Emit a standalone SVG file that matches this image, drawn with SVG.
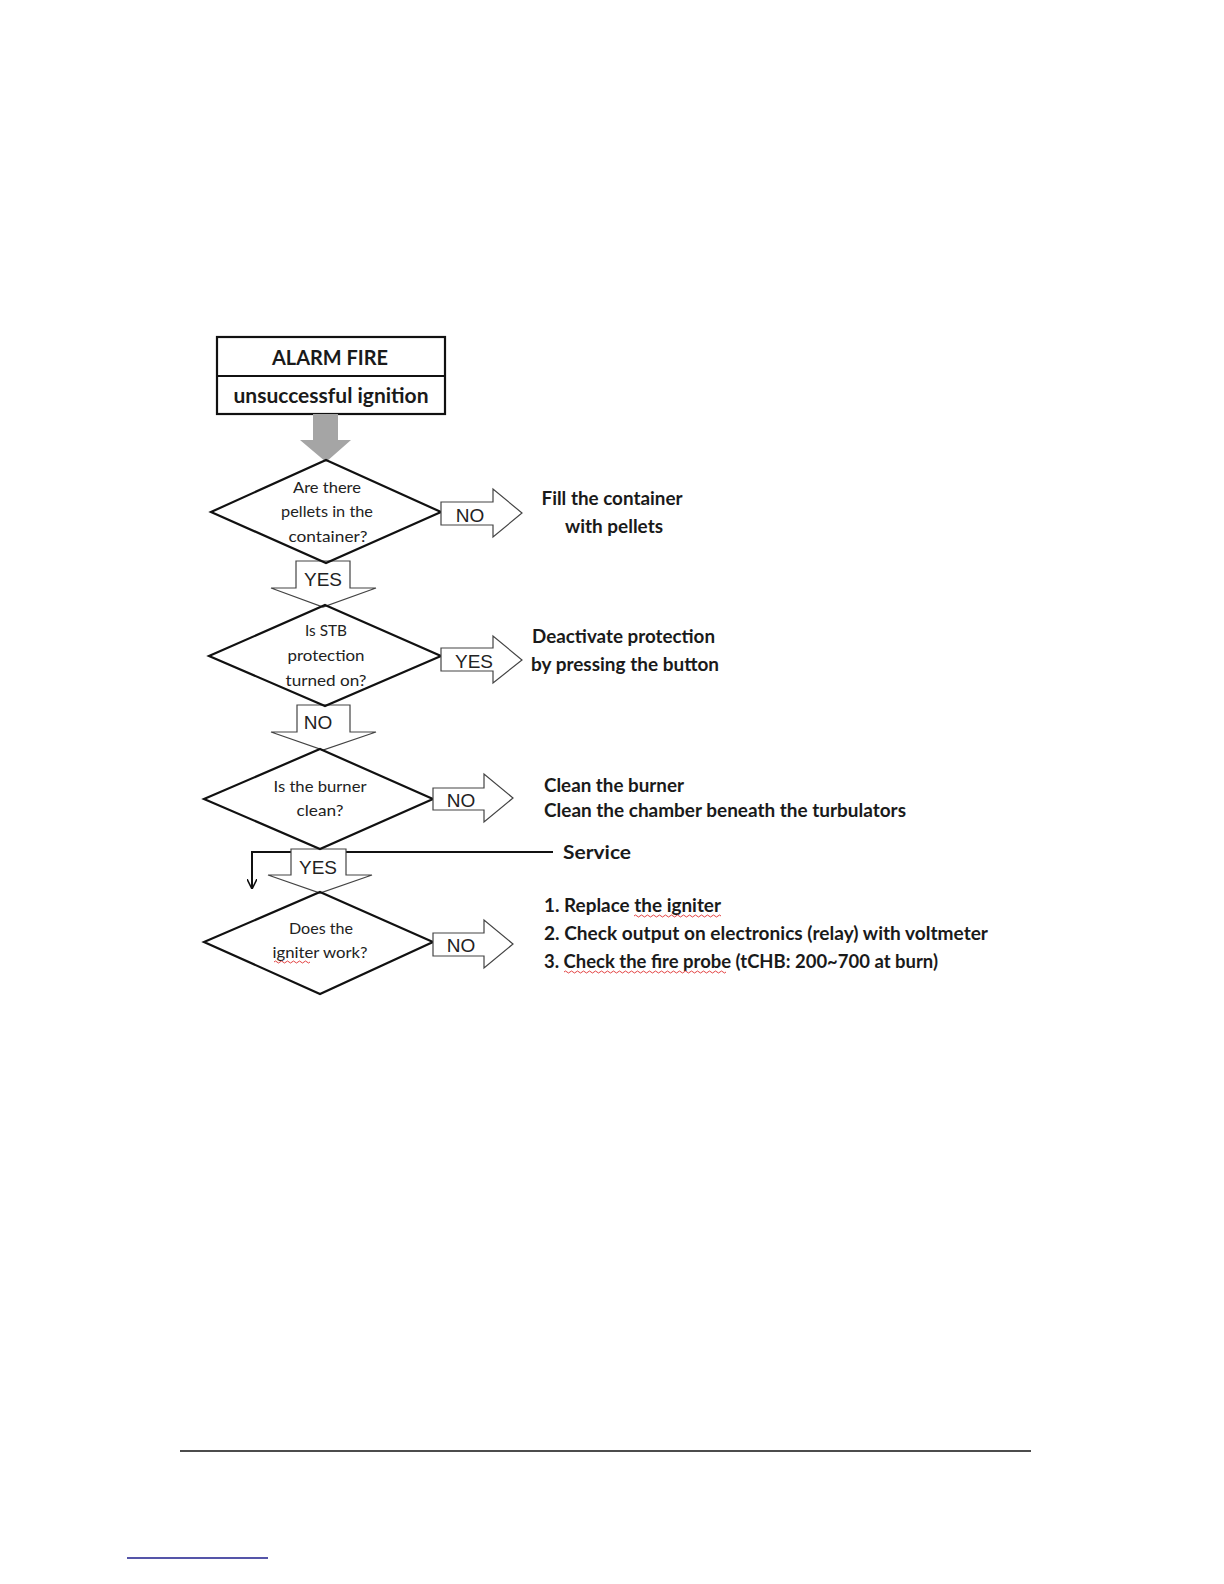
<svg xmlns="http://www.w3.org/2000/svg" width="1224" height="1584" viewBox="0 0 1224 1584">
<style>
.bg{fill:#ffffff}
.box{fill:#ffffff;stroke:#111;stroke-width:2.2}
.dia{fill:none;stroke:#111;stroke-width:2.2;stroke-linejoin:miter}
.blk{fill:#ffffff;stroke:#444;stroke-width:1.2;stroke-linejoin:miter}
.q{font-family:Lato,"Open Sans","Liberation Sans",sans-serif;font-size:16px;fill:#222;text-anchor:middle}
.lab{font-family:"Liberation Sans",Arial,sans-serif;font-size:19px;fill:#222;text-anchor:middle}
.act{font-family:Lato,"Open Sans","Liberation Sans",sans-serif;font-size:18px;font-weight:bold;fill:#1a1a1a}
.ttl{font-family:Lato,"Open Sans","Liberation Sans",sans-serif;font-size:21px;font-weight:bold;fill:#1a1a1a;text-anchor:middle}
.conn{fill:none;stroke:#111;stroke-width:2}
.sq{fill:none;stroke:#e03030;stroke-width:0.9}
</style>
<defs>
<marker id="ah" viewBox="0 0 10 10" refX="9" refY="5" markerWidth="5" markerHeight="5" orient="auto" markerUnits="strokeWidth">
<path d="M0,0 L10,5 L0,10" fill="none" stroke="#111" stroke-width="1.6"/>
</marker>
</defs>
<rect class="bg" x="0" y="0" width="1224" height="1584"/>

<g id="connectors">
<path class="conn" d="M553,852 L252,852 L252,888" marker-end="url(#ah)"/>
</g>

<g id="title">
<rect class="box" x="217" y="337" width="228" height="77"/>
<line x1="217" y1="376" x2="445" y2="376" stroke="#111" stroke-width="2"/>
<text class="ttl" x="330" y="365" textLength="116" lengthAdjust="spacingAndGlyphs">ALARM FIRE</text>
<text class="ttl" x="331" y="403" textLength="195" lengthAdjust="spacingAndGlyphs">unsuccessful ignition</text>
</g>

<g id="start-arrow">
<polygon points="313,414 338,414 338,440 351,440 326,462 300,440 313,440" fill="#a5a5a5"/>
</g>

<g id="arrow-yes1">
<polygon class="blk" points="296,561 350,561 350,588 376,588 323,607 271,588 296,588"/>
<text class="lab" x="323" y="586">YES</text>
</g>
<g id="arrow-no2">
<polygon class="blk" points="297,705 350,705 350,732 376,732 323,750 271,732 297,732"/>
<text class="lab" x="318" y="729">NO</text>
</g>
<g id="arrow-yes3">
<polygon class="blk" points="291,849 346,849 346,875 372,875 320,893 268,875 291,875"/>
<text class="lab" x="318" y="874">YES</text>
</g>

<g id="q1">
<polygon class="dia" points="326,460 441,512 326,563 211,512"/>
<text class="q" x="327" y="493" textLength="68" lengthAdjust="spacingAndGlyphs">Are there</text>
<text class="q" x="327" y="517" textLength="92" lengthAdjust="spacingAndGlyphs">pellets in the</text>
<text class="q" x="328" y="542" textLength="79" lengthAdjust="spacingAndGlyphs">container?</text>
</g>
<g id="q2">
<polygon class="dia" points="325,605 441,656 325,706 209,656"/>
<text class="q" x="326" y="636" textLength="42" lengthAdjust="spacingAndGlyphs">Is STB</text>
<text class="q" x="326" y="661" textLength="77" lengthAdjust="spacingAndGlyphs">protection</text>
<text class="q" x="326" y="686" textLength="81" lengthAdjust="spacingAndGlyphs">turned on?</text>
</g>
<g id="q3">
<polygon class="dia" points="320,749 433,799 320,849 204,799"/>
<text class="q" x="320" y="792" textLength="93" lengthAdjust="spacingAndGlyphs">Is the burner</text>
<text class="q" x="320" y="816" textLength="47" lengthAdjust="spacingAndGlyphs">clean?</text>
</g>
<g id="q4">
<polygon class="dia" points="320,892 433,942 320,994 204,942"/>
<text class="q" x="321" y="934" textLength="64" lengthAdjust="spacingAndGlyphs">Does the</text>
<text class="q" x="320" y="958" textLength="95" lengthAdjust="spacingAndGlyphs">igniter work?</text>
<path class="sq" d="M274,962 q1.5,-2 3,0 t3,0 t3,0 t3,0 t3,0 t3,0 t3,0 t3,0 t3,0 t3,0 t3,0 t3,0"/>
</g>

<g id="arrow-no1">
<polygon class="blk" points="441,502 493,502 493,489 522,513 493,537 493,525 441,525"/>
<text class="lab" x="470" y="522">NO</text>
</g>
<g id="arrow-yes2">
<polygon class="blk" points="441,648 493,648 493,636 522,660 493,683 493,671 441,671"/>
<text class="lab" x="474" y="668">YES</text>
</g>
<g id="arrow-no3">
<polygon class="blk" points="433,788 484,788 484,774 513,798 484,822 484,810 433,810"/>
<text class="lab" x="461" y="807">NO</text>
</g>
<g id="arrow-no4">
<polygon class="blk" points="433,933 484,933 484,920 513,944 484,968 484,956 433,956"/>
<text class="lab" x="461" y="952">NO</text>
</g>

<g id="action1">
<text class="act" x="612" y="505" text-anchor="middle" textLength="141" lengthAdjust="spacingAndGlyphs">Fill the container</text>
<text class="act" x="614" y="533" text-anchor="middle" textLength="98" lengthAdjust="spacingAndGlyphs">with pellets</text>
</g>
<g id="action2">
<text class="act" x="532" y="643" textLength="183" lengthAdjust="spacingAndGlyphs">Deactivate protection</text>
<text class="act" x="531" y="671" textLength="188" lengthAdjust="spacingAndGlyphs">by pressing the button</text>
</g>
<g id="action3">
<text class="act" x="544" y="792" textLength="140" lengthAdjust="spacingAndGlyphs">Clean the burner</text>
<text class="act" x="544" y="817" textLength="362" lengthAdjust="spacingAndGlyphs">Clean the chamber beneath the turbulators</text>
</g>
<g id="service">
<text class="act" x="563" y="859" font-size="20" textLength="68" lengthAdjust="spacingAndGlyphs">Service</text>
</g>
<g id="action4">
<text class="act" x="544" y="912" textLength="177" lengthAdjust="spacingAndGlyphs">1. Replace the igniter</text>
<text class="act" x="544" y="940" textLength="444" lengthAdjust="spacingAndGlyphs">2. Check output on electronics (relay) with voltmeter</text>
<text class="act" x="544" y="968" textLength="394" lengthAdjust="spacingAndGlyphs">3. Check the fire probe (tCHB: 200~700 at burn)</text>
<path class="sq" d="M634,916 q1.5,-2 3,0 t3,0 t3,0 t3,0 t3,0 t3,0 t3,0 t3,0 t3,0 t3,0 t3,0 t3,0 t3,0 t3,0 t3,0 t3,0 t3,0 t3,0 t3,0 t3,0 t3,0 t3,0 t3,0 t3,0 t3,0 t3,0 t3,0 t3,0 t3,0"/>
<path class="sq" d="M564,972 q1.5,-2 3,0 t3,0 t3,0 t3,0 t3,0 t3,0 t3,0 t3,0 t3,0 t3,0 t3,0 t3,0 t3,0 t3,0 t3,0 t3,0 t3,0 t3,0 t3,0 t3,0 t3,0 t3,0 t3,0 t3,0 t3,0 t3,0 t3,0 t3,0 t3,0 t3,0 t3,0 t3,0 t3,0 t3,0 t3,0 t3,0 t3,0 t3,0 t3,0 t3,0 t3,0 t3,0 t3,0 t3,0 t3,0 t3,0 t3,0 t3,0 t3,0 t3,0 t3,0 t3,0 t3,0 t3,0"/>
</g>

<g id="page-rules">
<line x1="180" y1="1451" x2="1031" y2="1451" stroke="#111" stroke-width="1.5"/>
<line x1="127" y1="1558" x2="268" y2="1558" stroke="#1c1c8c" stroke-width="1.5"/>
</g>
</svg>
